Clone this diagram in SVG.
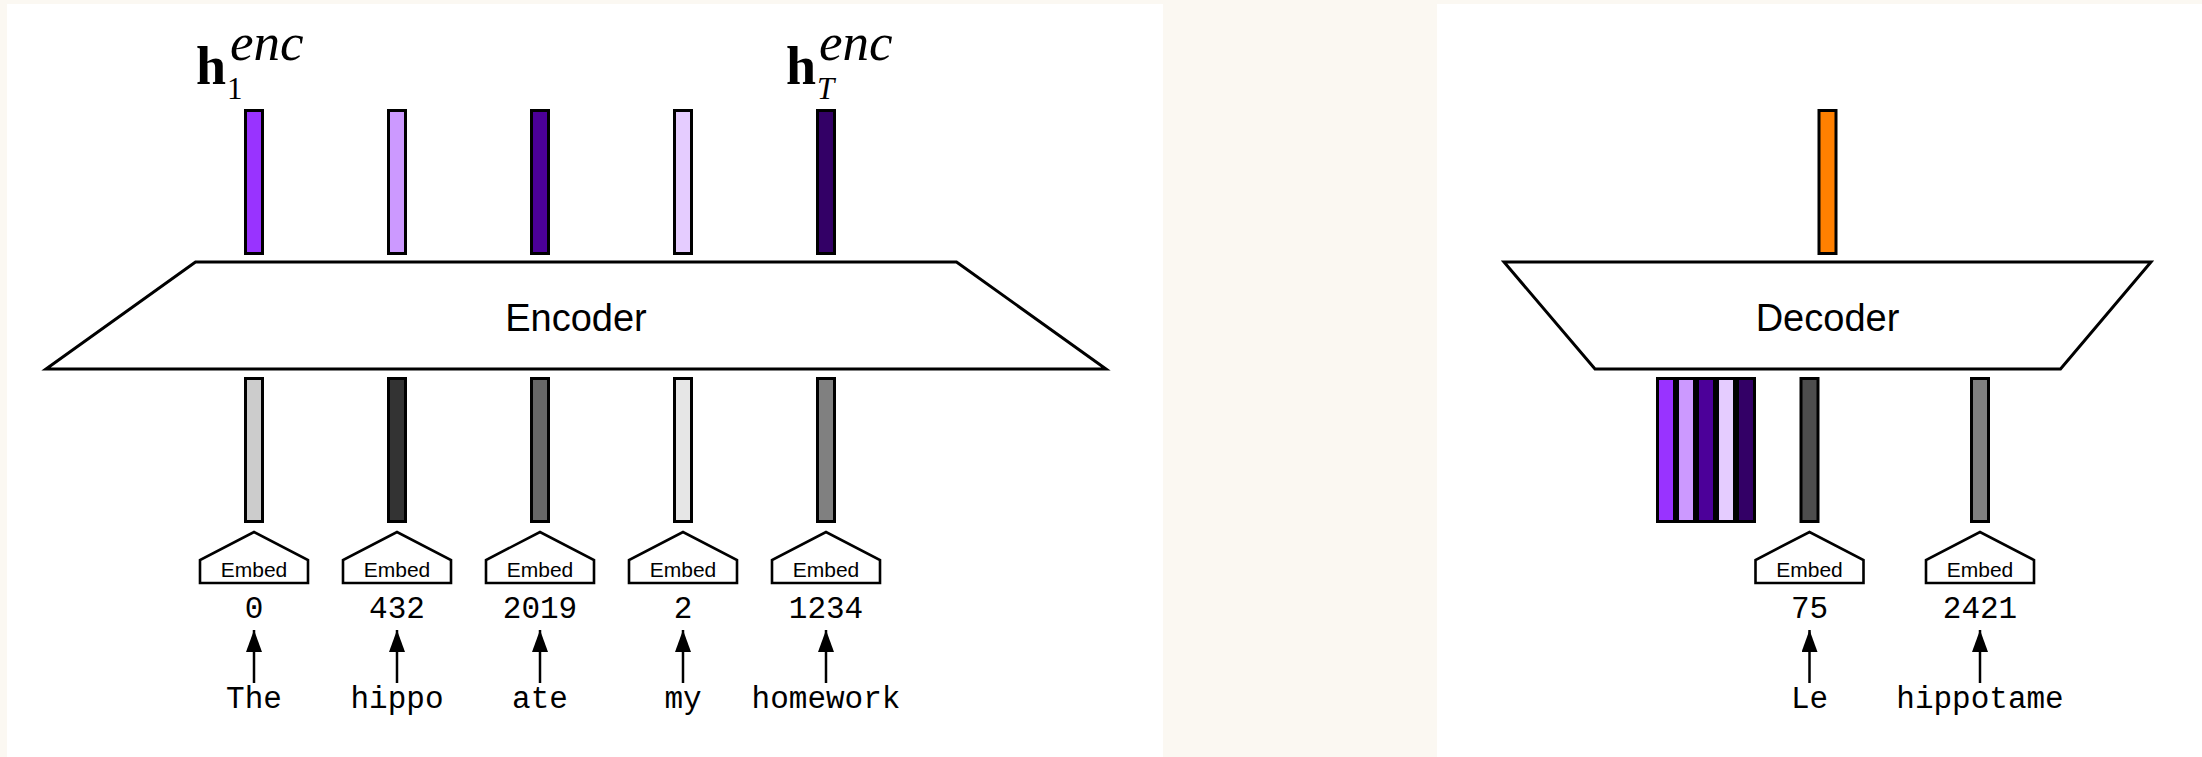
<svg xmlns="http://www.w3.org/2000/svg" width="2202" height="757" viewBox="0 0 2202 757">
<style>
.bar{stroke:#000;stroke-width:3}
.trap{fill:#fff;stroke:#000;stroke-width:3;stroke-linejoin:miter}
.house{fill:#fff;stroke:#000;stroke-width:2.6;stroke-linejoin:miter}
.lbl{font-family:"Liberation Sans",Arial,sans-serif;text-anchor:middle;fill:#000}
.mono{font-family:"Liberation Mono","Courier New",monospace;font-size:31px;text-anchor:middle;fill:#000}
.emb{font-size:21px}
.arrow{stroke:#000;stroke-width:2.5;fill:none}
.math{font-family:"Liberation Serif","Times New Roman",serif;fill:#000}
</style>
<defs>
<marker id="ah" viewBox="0 0 22 16" refX="22" refY="8" markerWidth="22" markerHeight="16" markerUnits="userSpaceOnUse" orient="auto">
<path d="M0,0 L22,8 L0,16 Z" fill="#000"/>
</marker>
</defs>
<rect x="0" y="0" width="2202" height="757" fill="#fbf8f2"/>
<rect x="7" y="4" width="1156" height="753" fill="#fff"/>
<rect x="1437" y="4" width="765" height="753" fill="#fff"/>

<g id="label-h1">
<text class="math" x="196" y="84" font-size="54" font-weight="bold">h</text>
<text class="math" x="230" y="60" font-size="53" font-style="italic">enc</text>
<text class="math" x="227" y="99" font-size="31">1</text>
</g>
<g id="label-hT">
<text class="math" x="786" y="84" font-size="54" font-weight="bold">h</text>
<text class="math" x="819" y="60" font-size="53" font-style="italic">enc</text>
<text class="math" x="817" y="99" font-size="31" font-style="italic">T</text>
</g>

<g id="enc-out">
<rect class="bar" x="245.5" y="110.5" width="17" height="143" fill="#9933ff"/>
<rect class="bar" x="388.5" y="110.5" width="17" height="143" fill="#cc99ff"/>
<rect class="bar" x="531.5" y="110.5" width="17" height="143" fill="#4c0099"/>
<rect class="bar" x="674.5" y="110.5" width="17" height="143" fill="#e5ccff"/>
<rect class="bar" x="817.5" y="110.5" width="17" height="143" fill="#330066"/>
</g>

<g id="encoder">
<polygon class="trap" points="195.5,262 956.5,262 1106,369 46,369"/>
<text class="lbl" x="576" y="331" font-size="38">Encoder</text>
</g>

<g id="enc-in">
<rect class="bar" x="245.5" y="378.5" width="17" height="143" fill="#cccccc"/>
<rect class="bar" x="388.5" y="378.5" width="17" height="143" fill="#333333"/>
<rect class="bar" x="531.5" y="378.5" width="17" height="143" fill="#666666"/>
<rect class="bar" x="674.5" y="378.5" width="17" height="143" fill="#e6e6e6"/>
<rect class="bar" x="817.5" y="378.5" width="17" height="143" fill="#808080"/>
</g>

<g id="embed-1">
<path class="house" d="M200,583 L200,560 L254,532 L308,560 L308,583 Z"/>
<text class="lbl emb" x="254" y="577">Embed</text>
<text class="mono" x="254" y="618">0</text>
<text class="mono" x="254" y="708">The</text>
</g>
<g id="embed-2">
<path class="house" d="M343,583 L343,560 L397,532 L451,560 L451,583 Z"/>
<text class="lbl emb" x="397" y="577">Embed</text>
<text class="mono" x="397" y="618">432</text>
<text class="mono" x="397" y="708">hippo</text>
</g>
<g id="embed-3">
<path class="house" d="M486,583 L486,560 L540,532 L594,560 L594,583 Z"/>
<text class="lbl emb" x="540" y="577">Embed</text>
<text class="mono" x="540" y="618">2019</text>
<text class="mono" x="540" y="708">ate</text>
</g>
<g id="embed-4">
<path class="house" d="M629,583 L629,560 L683,532 L737,560 L737,583 Z"/>
<text class="lbl emb" x="683" y="577">Embed</text>
<text class="mono" x="683" y="618">2</text>
<text class="mono" x="683" y="708">my</text>
</g>
<g id="embed-5">
<path class="house" d="M772,583 L772,560 L826,532 L880,560 L880,583 Z"/>
<text class="lbl emb" x="826" y="577">Embed</text>
<text class="mono" x="826" y="618">1234</text>
<text class="mono" x="826" y="708">homework</text>
</g>

<g id="dec-out">
<rect class="bar" x="1819" y="110.5" width="17" height="143" fill="#ff8000"/>
</g>

<g id="decoder">
<polygon class="trap" points="1504,262 2151,262 2060.5,369 1595,369"/>
<text class="lbl" x="1827.5" y="331" font-size="38">Decoder</text>
</g>

<g id="context">
<rect class="bar" x="1657.5" y="378.5" width="17" height="143" fill="#9933ff"/>
<rect class="bar" x="1677.5" y="378.5" width="17" height="143" fill="#cc99ff"/>
<rect class="bar" x="1697.5" y="378.5" width="17" height="143" fill="#4c0099"/>
<rect class="bar" x="1717.5" y="378.5" width="17" height="143" fill="#e5ccff"/>
<rect class="bar" x="1737.5" y="378.5" width="17" height="143" fill="#330066"/>
</g>

<g id="dec-in">
<rect class="bar" x="1801" y="378.5" width="17" height="143" fill="#4d4d4d"/>
<rect class="bar" x="1971.5" y="378.5" width="17" height="143" fill="#808080"/>
</g>

<g id="embed-le">
<path class="house" d="M1755.5,583 L1755.5,560 L1809.5,532 L1863.5,560 L1863.5,583 Z"/>
<text class="lbl emb" x="1809.5" y="577">Embed</text>
<text class="mono" x="1809.5" y="618">75</text>
<text class="mono" x="1809.5" y="708">Le</text>
</g>
<g id="embed-hippotame">
<path class="house" d="M1926,583 L1926,560 L1980,532 L2034,560 L2034,583 Z"/>
<text class="lbl emb" x="1980" y="577">Embed</text>
<text class="mono" x="1980" y="618">2421</text>
<text class="mono" x="1980" y="708">hippotame</text>
</g>

<g id="connectors">
<line class="arrow" x1="254" y1="683" x2="254" y2="630" marker-end="url(#ah)"/>
<line class="arrow" x1="397" y1="683" x2="397" y2="630" marker-end="url(#ah)"/>
<line class="arrow" x1="540" y1="683" x2="540" y2="630" marker-end="url(#ah)"/>
<line class="arrow" x1="683" y1="683" x2="683" y2="630" marker-end="url(#ah)"/>
<line class="arrow" x1="826" y1="683" x2="826" y2="630" marker-end="url(#ah)"/>
<line class="arrow" x1="1809.5" y1="683" x2="1809.5" y2="630" marker-end="url(#ah)"/>
<line class="arrow" x1="1980" y1="683" x2="1980" y2="630" marker-end="url(#ah)"/>
</g>
</svg>
